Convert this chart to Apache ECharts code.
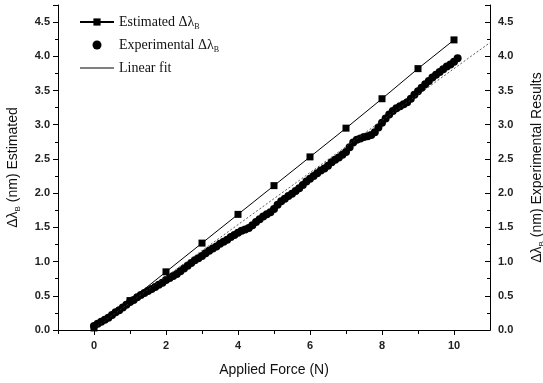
<!DOCTYPE html>
<html>
<head>
<meta charset="utf-8">
<script src="https://cdn.jsdelivr.net/npm/echarts@6/dist/echarts.min.js"></script>
<style>
  html, body { margin: 0; padding: 0; background: #fff; }
  #chart { width: 543px; height: 383px; }
</style>
</head>
<body>
<div id="chart"></div>
<script>
// estimated shift, one point per newton
const forceEst = [0, 1, 2, 3, 4, 5, 6, 7, 8, 9, 10];
const shiftEst = [0.03, 0.43, 0.85, 1.27, 1.69, 2.11, 2.53, 2.95, 3.38, 3.82, 4.24];

// experimental shift, every 0.1 N
const forceExp = [
  0.0, 0.1, 0.2, 0.3, 0.4, 0.5, 0.6, 0.7, 0.8, 0.9,
  1.0, 1.1, 1.2, 1.3, 1.4, 1.5, 1.6, 1.7, 1.8, 1.9,
  2.0, 2.1, 2.2, 2.3, 2.4, 2.5, 2.6, 2.7, 2.8, 2.9,
  3.0, 3.1, 3.2, 3.3, 3.4, 3.5, 3.6, 3.7, 3.8, 3.9,
  4.0, 4.1, 4.2, 4.3, 4.4, 4.5, 4.6, 4.7, 4.8, 4.9,
  5.0, 5.1, 5.2, 5.3, 5.4, 5.5, 5.6, 5.7, 5.8, 5.9,
  6.0, 6.1, 6.2, 6.3, 6.4, 6.5, 6.6, 6.7, 6.8, 6.9,
  7.0, 7.1, 7.2, 7.3, 7.4, 7.5, 7.6, 7.7, 7.8, 7.9,
  8.0, 8.1, 8.2, 8.3, 8.4, 8.5, 8.6, 8.7, 8.8, 8.9,
  9.0, 9.1, 9.2, 9.3, 9.4, 9.5, 9.6, 9.7, 9.8, 9.9,
  10.0, 10.1
];
const shiftExp = [
  0.06, 0.09, 0.12, 0.15, 0.18, 0.22, 0.26, 0.29, 0.33, 0.37,
  0.41, 0.44, 0.48, 0.51, 0.54, 0.57, 0.60, 0.63, 0.66, 0.69,
  0.73, 0.76, 0.79, 0.82, 0.86, 0.90, 0.94, 0.98, 1.02, 1.05,
  1.08, 1.12, 1.16, 1.19, 1.22, 1.26, 1.29, 1.32, 1.36, 1.39,
  1.42, 1.45, 1.47, 1.49, 1.53, 1.58, 1.62, 1.66, 1.69, 1.72,
  1.77, 1.83, 1.88, 1.92, 1.96, 1.99, 2.03, 2.07, 2.12, 2.17,
  2.21, 2.25, 2.29, 2.33, 2.36, 2.40, 2.45, 2.49, 2.52, 2.56,
  2.60, 2.67, 2.74, 2.78, 2.80, 2.82, 2.83, 2.85, 2.89, 2.96,
  3.03, 3.09, 3.15, 3.20, 3.24, 3.27, 3.30, 3.33, 3.38, 3.44,
  3.49, 3.54, 3.59, 3.64, 3.69, 3.73, 3.77, 3.81, 3.85, 3.88,
  3.92, 3.97
];

// linear fit end points
const fitX = [0, 11];
const fitY = [0.02, 4.2];

const xLabels = [0, 2, 4, 6, 8, 10];
const xMinor = [-1, 1, 3, 5, 7, 9];

const pairs = (xs, ys) => xs.map((x, i) => [x, ys[i]]);

const subStyle = (family, size) => ({
  fontFamily: family, fontSize: size, color: '#111', verticalAlign: 'bottom', padding: [10, 0, 0, 0]
});
const labelFont = { fontFamily: 'Liberation Sans', fontSize: 11, fontWeight: 'bold', color: '#222' };
const nameFont = {
  fontFamily: 'Liberation Sans', fontSize: 14, color: '#111',
  rich: { sub: subStyle('Liberation Sans', 8) }
};

const myChart = echarts.init(document.getElementById('chart'));

const yCommon = {
  type: 'value',
  min: 0,
  max: 4.75,
  interval: 0.5,
  splitLine: { show: false },
  axisLine: { show: true, onZero: false, lineStyle: { color: '#000', width: 1 } },
  axisTick: { show: true, length: 5, lineStyle: { color: '#000' } },
  minorTick: { show: true, splitNumber: 2, length: 3, lineStyle: { color: '#000' } },
  axisLabel: Object.assign({ margin: 8, showMaxLabel: false, formatter: v => v.toFixed(1) }, labelFont),
  nameLocation: 'middle',
  nameTextStyle: nameFont
};

let option = {
  animation: false,
  grid: { left: 58, right: 53, top: 5, bottom: 53, outerBoundsMode: 'none', containLabel: false },
  xAxis: [
    {
      type: 'value',
      min: -1,
      max: 11,
      interval: 1,
      splitLine: { show: false },
      axisLine: { show: true, onZero: false, lineStyle: { color: '#000', width: 1 } },
      axisTick: { show: true, length: 5, customValues: xLabels, lineStyle: { color: '#000' } },
      axisLabel: Object.assign({ margin: 10, customValues: xLabels }, labelFont),
      name: 'Applied Force (N)',
      nameLocation: 'middle',
      nameGap: 33,
      nameTextStyle: nameFont
    },
    {
      type: 'value',
      min: -1,
      max: 11,
      interval: 1,
      position: 'bottom',
      splitLine: { show: false },
      axisLine: { show: true, onZero: false, lineStyle: { color: '#000', width: 1 } },
      axisTick: { show: true, length: 4, customValues: xMinor, lineStyle: { color: '#000' } },
      axisLabel: { show: false }
    }
  ],
  yAxis: [
    Object.assign({}, yCommon, {
      position: 'left',
      name: 'Δλ{sub|B} (nm) Estimated',
      nameGap: 36
    }),
    Object.assign({}, yCommon, {
      position: 'right',
      name: 'Δλ{sub|B} (nm) Experimental Results',
      nameGap: 38,
      axisTick: { show: true, inside: true, length: 5, lineStyle: { color: '#000' } },
      minorTick: { show: true, splitNumber: 2, length: 3, lineStyle: { color: '#000' } }
    })
  ],
  legend: {
    orient: 'vertical',
    left: 74,
    top: 10,
    itemWidth: 34,
    itemHeight: 9,
    itemGap: 7,
    textStyle: {
      fontFamily: 'Liberation Serif', fontSize: 14, color: '#111',
      rich: { sub: subStyle('Liberation Serif', 8) }
    },
    formatter: name => name === 'Linear fit' ? name : name.replace('_B', '{sub|B}'),
    data: [
      { name: 'Estimated Δλ_B' },
      { name: 'Experimental Δλ_B' },
      { name: 'Linear fit', itemStyle: { opacity: 0 }, lineStyle: { type: 'solid', width: 1, color: '#000' } }
    ]
  },
  series: [
    {
      name: 'Experimental Δλ_B',
      type: 'scatter',
      symbol: 'circle',
      symbolSize: 8,
      itemStyle: { color: '#000', opacity: 1 },
      data: pairs(forceExp, shiftExp),
      z: 2
    },
    {
      name: 'Linear fit',
      type: 'line',
      symbol: 'none',
      itemStyle: { color: '#000' },
      lineStyle: { color: '#333', width: 0.8, type: [2, 2] },
      data: pairs(fitX, fitY),
      z: 3
    },
    {
      name: 'Estimated Δλ_B',
      type: 'line',
      symbol: 'rect',
      symbolSize: 7,
      itemStyle: { color: '#000' },
      lineStyle: { color: '#000', width: 1 },
      data: pairs(forceEst, shiftEst),
      z: 4
    }
  ]
};

option && myChart.setOption(option);
</script>
</body>
</html>
